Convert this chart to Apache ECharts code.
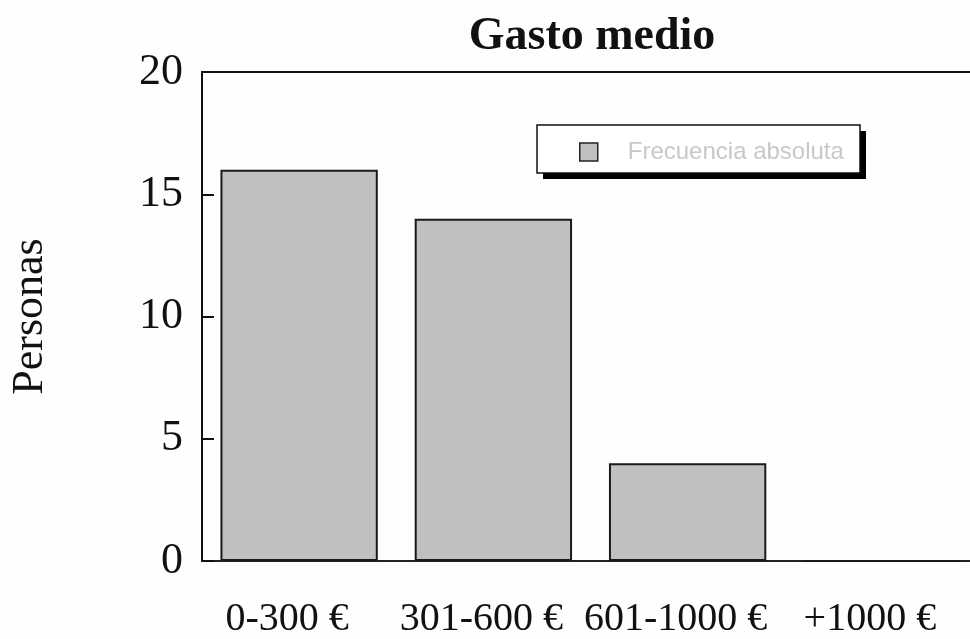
<!DOCTYPE html>
<html>
<head>
<meta charset="utf-8">
<script src="https://cdn.jsdelivr.net/npm/echarts@6/dist/echarts.min.js"></script>
<style>
  html, body { margin: 0; padding: 0; background: #fefefc; overflow: hidden; }
  /* the plot frame runs past the right edge of the window */
  #chart { width: 980px; height: 639px; }
</style>
</head>
<body>
<div id="chart"></div>
<script>
// Spending ranges and how many people fall into each one
const categories = ['0-300 €', '301-600 €', '601-1000 €', '+1000 €'];
const frecuencia = [16, 14, 4, 0];
const seriesName = 'Frecuencia absoluta';
const chartTitle = 'Gasto medio';
const yAxisName = 'Personas';
const yTicks = { min: 0, max: 20, interval: 5 };

const serif = '"Liberation Serif", "Times New Roman", serif';
const sans = '"Liberation Sans", Arial, sans-serif';

// Legend frame: drop shadow first, then the white bordered box on top
const legendBox = { x: 537, y: 125, w: 323, h: 48, shadow: 6 };

const chart = echarts.init(document.getElementById('chart'), null, { renderer: 'canvas' });

chart.setOption({
  backgroundColor: '#fefefc',
  animation: false,
  title: {
    text: chartTitle,
    left: 587,
    textAlign: 'center',
    top: 9,
    textStyle: { fontFamily: serif, fontSize: 46, fontWeight: 'bold', color: '#111' }
  },
  graphic: [
    {
      type: 'rect', z: 10, silent: true,
      shape: { x: legendBox.x + legendBox.shadow, y: legendBox.y + legendBox.shadow, width: legendBox.w, height: legendBox.h },
      style: { fill: '#000' }
    },
    {
      type: 'rect', z: 11, silent: true,
      shape: { x: legendBox.x, y: legendBox.y, width: legendBox.w, height: legendBox.h },
      style: { fill: '#ffffff', stroke: '#111', lineWidth: 1.5 }
    }
  ],
  legend: {
    data: [seriesName],
    left: legendBox.x,
    top: legendBox.y,
    z: 20,
    padding: [15, 17, 15, 42],
    icon: 'rect',
    itemWidth: 18,
    itemHeight: 18,
    itemStyle: { color: '#c0c0c0', borderColor: '#222', borderWidth: 1.5 },
    textStyle: { fontFamily: sans, fontSize: 24, color: '#c8c8c8', padding: [0, 0, 0, 25] },
    selectedMode: false
  },
  grid: {
    left: 201,
    top: 72,
    width: 778,
    height: 491,
    containLabel: false,
    show: true,
    borderColor: '#111',
    borderWidth: 2,
    backgroundColor: 'transparent'
  },
  xAxis: {
    type: 'category',
    data: categories,
    axisLine: { show: true, lineStyle: { color: '#222', width: 2 } },
    axisTick: { show: false },
    axisLabel: { fontFamily: serif, fontSize: 40, color: '#111', margin: 38, interval: 0, padding: [0, 24, 0, 0] },
    splitLine: { show: false }
  },
  yAxis: {
    type: 'value',
    min: yTicks.min,
    max: yTicks.max,
    interval: yTicks.interval,
    name: yAxisName,
    nameLocation: 'middle',
    nameGap: 150,
    nameRotate: 90,
    nameTextStyle: { fontFamily: serif, fontSize: 44, color: '#111' },
    axisLine: { show: true, lineStyle: { color: '#111', width: 2 } },
    axisTick: { show: true, inside: true, length: 12, lineStyle: { color: '#111', width: 2 } },
    axisLabel: { fontFamily: serif, fontSize: 44, color: '#111', margin: 19 },
    splitLine: { show: false }
  },
  series: [{
    name: seriesName,
    type: 'bar',
    data: frecuencia,
    barCategoryGap: '19%',
    itemStyle: { color: '#c0c0c0', borderColor: '#1a1a1a', borderWidth: 2 }
  }]
});
</script>
</body>
</html>
